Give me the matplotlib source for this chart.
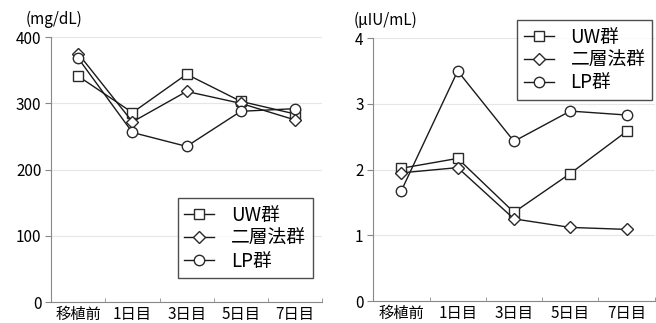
import matplotlib.pyplot as plt

plt.rcParams['font.family'] = ['Noto Sans CJK JP', 'DejaVu Sans']

# categories (time points)
categories = ['移植前', '1日目', '3日目', '5日目', '7日目']

# left panel (mg/dL)
uw_left = [341, 286, 344, 303, 284]
nisou_left = [375, 272, 318, 300, 275]
lp_left = [368, 256, 235, 288, 292]

# right panel (µIU/mL)
uw_right = [2.02, 2.17, 1.35, 1.94, 2.58]
nisou_right = [1.95, 2.03, 1.25, 1.12, 1.09]
lp_right = [1.68, 3.50, 2.43, 2.89, 2.83]

labels = ['UW群', '二層法群', 'LP群']
markers = ['s', 'D', 'o']
msizes = [6.5, 6.5, 7.5]

fig = plt.figure(figsize=(6.56, 3.23), dpi=100)
ax1 = fig.add_axes([0.078, 0.065, 0.413, 0.82])
ax2 = fig.add_axes([0.569, 0.068, 0.429, 0.814])


def draw(ax, series, ymax, yticks, unit, unit_x, leg_loc, leg_anchor):
    x = range(len(categories))
    for vals, lab, m, ms in zip(series, labels, markers, msizes):
        ax.plot(x, vals, color='#1a1a1a', lw=1.0, marker=m, ms=ms,
                mfc='white', mec='#2a2a2a', mew=1.0, label=lab)
    ax.set_xlim(-0.5, len(categories) - 0.5)
    ax.set_ylim(0, ymax)
    ax.set_yticks(yticks)
    ax.set_xticks(list(x))
    ax.set_xticklabels(categories)
    ax.set_xticks([i - 0.5 for i in range(len(categories) + 1)], minor=True)
    ax.tick_params(axis='x', which='major', length=0, labelsize=11, pad=3)
    ax.tick_params(axis='x', which='minor', direction='in', length=3, color='#888888')
    ax.tick_params(axis='y', direction='out', length=4, color='#888888', labelsize=11, pad=3)
    ax.grid(axis='y', color='#e6e6e6', lw=0.8)
    ax.set_axisbelow(True)
    for s in ['top', 'right']:
        ax.spines[s].set_visible(False)
    for s in ['left', 'bottom']:
        ax.spines[s].set_color('#888888')
    ax.text(unit_x, 1.035, unit, transform=ax.transAxes, ha='center', va='bottom', fontsize=11)
    leg = ax.legend(loc=leg_loc, bbox_to_anchor=leg_anchor, bbox_transform=fig.transFigure,
                    fontsize=13.5, frameon=True, fancybox=False,
                    edgecolor='#222222', handlelength=1.6, labelspacing=0.1,
                    borderpad=0.35, handletextpad=0.9, borderaxespad=0)
    leg.get_frame().set_linewidth(1.0)
    return leg


draw(ax1, [uw_left, nisou_left, lp_left], 400, [0, 100, 200, 300, 400], '(mg/dL)',
     0.01, 'lower right', (0.477, 0.139))
draw(ax2, [uw_right, nisou_right, lp_right], 4, [0, 1, 2, 3, 4], '(μIU/mL)',
     0.045, 'upper right', (0.994, 0.938))

fig.savefig('out.png', dpi=100)
